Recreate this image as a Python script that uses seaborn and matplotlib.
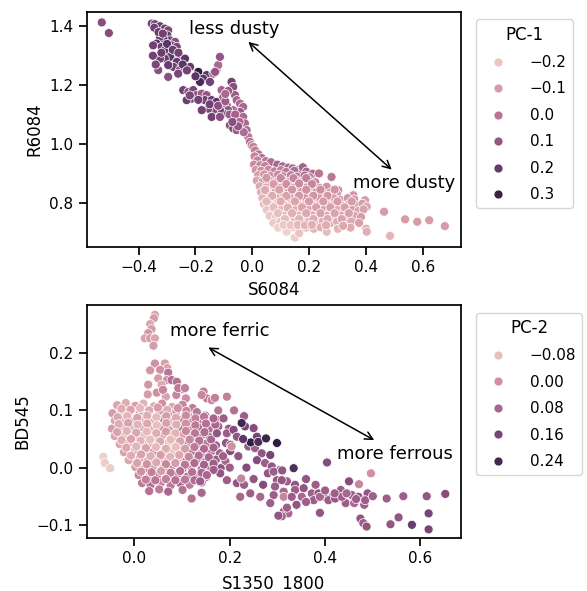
import matplotlib
matplotlib.use("Agg")
import matplotlib.pyplot as plt
import pandas as pd
import seaborn as sns

# ---------------- data: top panel (S6084, R6084, PC-1) ----------------
dusty_far_left = [(-0.530, 1.413, 0.13), (-0.505, 1.377, 0.13)]

dusty_upper = [
    (-0.354, 1.409, 0.17), (-0.343, 1.407, 0.15), (-0.325, 1.400, 0.19), (-0.308, 1.392, 0.17),
    (-0.296, 1.386, 0.15), (-0.299, 1.369, 0.19), (-0.290, 1.352, 0.17), (-0.272, 1.347, 0.12),
    (-0.313, 1.358, 0.22), (-0.325, 1.364, 0.19), (-0.337, 1.341, 0.22), (-0.349, 1.335, 0.17),
    (-0.319, 1.330, 0.19), (-0.308, 1.318, 0.22), (-0.284, 1.335, 0.17), (-0.266, 1.330, 0.15),
    (-0.272, 1.307, 0.32), (-0.290, 1.296, 0.22), (-0.308, 1.290, 0.19), (-0.325, 1.290, 0.17),
    (-0.255, 1.296, 0.26), (-0.237, 1.290, 0.22), (-0.266, 1.279, 0.19), (-0.278, 1.262, 0.17),
    (-0.296, 1.268, 0.19), (-0.255, 1.251, 0.17), (-0.261, 1.239, 0.15), (-0.331, 1.251, 0.12),
    (-0.296, 1.228, 0.12), (-0.219, 1.262, 0.19), (-0.190, 1.245, 0.32), (-0.161, 1.234, 0.22),
    (-0.137, 1.239, 0.06), (-0.126, 1.251, 0.08), (-0.120, 1.268, 0.04), (-0.114, 1.296, 0.10),
    (-0.131, 1.245, 0.10), (-0.173, 1.222, 0.22), (-0.184, 1.211, 0.26), (-0.149, 1.211, 0.17),
    (-0.345, 1.395, 0.17), (-0.330, 1.380, 0.19), (-0.315, 1.375, 0.17), (-0.300, 1.340, 0.22),
    (-0.280, 1.320, 0.19), (-0.260, 1.310, 0.17), (-0.245, 1.270, 0.22), (-0.230, 1.250, 0.17),
    (-0.200, 1.230, 0.22), (-0.320, 1.310, 0.19), (-0.350, 1.300, 0.17), (-0.340, 1.270, 0.15),
]

dusty_middle = [
    (-0.243, 1.183, 0.17), (-0.225, 1.177, 0.12), (-0.208, 1.183, 0.15), (-0.214, 1.154, 0.17),
    (-0.231, 1.149, 0.19), (-0.196, 1.166, 0.12), (-0.178, 1.171, 0.08), (-0.161, 1.166, 0.10),
    (-0.167, 1.149, 0.17), (-0.143, 1.149, 0.19), (-0.126, 1.143, 0.22), (-0.108, 1.183, 0.06),
    (-0.102, 1.160, 0.08), (-0.090, 1.132, 0.12), (-0.073, 1.211, 0.17), (-0.067, 1.194, 0.12),
    (-0.061, 1.166, 0.08), (-0.055, 1.149, 0.06), (-0.043, 1.137, 0.04), (-0.032, 1.126, 0.04),
    (-0.043, 1.109, 0.08), (-0.067, 1.115, 0.04), (-0.085, 1.115, 0.10), (-0.102, 1.103, 0.17),
    (-0.114, 1.115, 0.15), (-0.137, 1.115, 0.12), (-0.155, 1.120, 0.15), (-0.178, 1.115, 0.17),
    (-0.143, 1.092, 0.17), (-0.114, 1.092, 0.12), (-0.073, 1.092, 0.06), (-0.055, 1.081, 0.08),
    (-0.032, 1.092, 0.04), (-0.079, 1.064, 0.12), (-0.067, 1.053, 0.15), (-0.055, 1.047, 0.08),
    (-0.038, 1.058, 0.06), (-0.026, 1.070, 0.04), (-0.020, 1.047, 0.04), (-0.014, 1.024, 0.00),
    (-0.008, 1.007, 0.02), (-0.002, 0.996, 0.00), (0.004, 0.990, -0.02),
    (-0.220, 1.165, 0.15), (-0.190, 1.150, 0.17), (-0.150, 1.135, 0.17), (-0.120, 1.130, 0.12),
    (-0.095, 1.145, 0.08), (-0.080, 1.100, 0.08), (-0.060, 1.100, 0.06), (-0.045, 1.075, 0.04),
    (-0.030, 1.040, 0.03), (-0.050, 1.060, 0.10), (-0.070, 1.075, 0.12), (-0.085, 1.180, 0.08),
    (-0.095, 1.170, 0.04),
]

dusty_lower = [
    (0.010, 0.978, -0.02), (0.022, 0.965, 0.00), (0.008, 0.958, -0.04), (0.034, 0.952, 0.02),
    (0.018, 0.944, -0.03), (0.048, 0.942, 0.00), (0.066, 0.938, 0.03), (0.006, 0.930, -0.06),
    (0.028, 0.928, -0.04), (0.045, 0.925, -0.02), (0.088, 0.930, 0.04), (0.107, 0.924, 0.05),
    (0.127, 0.920, 0.04), (0.142, 0.917, 0.06), (0.161, 0.911, 0.08), (0.178, 0.921, 0.06),
    (0.190, 0.906, 0.05), (0.213, 0.899, 0.03), (0.235, 0.900, 0.00), (0.279, 0.888, 0.00),
    (0.012, 0.912, -0.08), (0.031, 0.909, -0.06), (0.057, 0.913, -0.05), (0.078, 0.907, -0.03),
    (0.101, 0.911, -0.02), (0.119, 0.905, 0.00), (0.148, 0.909, 0.02),
    (0.021, 0.894, -0.10), (0.042, 0.897, -0.08), (0.064, 0.891, -0.06), (0.091, 0.896, -0.05),
    (0.109, 0.890, -0.03), (0.136, 0.894, -0.02), (0.158, 0.889, 0.00), (0.184, 0.893, 0.02),
    (0.202, 0.887, -0.02),
    (0.016, 0.876, -0.12), (0.037, 0.872, -0.10), (0.059, 0.877, -0.08), (0.086, 0.871, -0.07),
    (0.108, 0.876, -0.06), (0.131, 0.872, -0.05), (0.153, 0.877, -0.04), (0.177, 0.871, -0.03),
    (0.198, 0.876, -0.02), (0.222, 0.870, -0.05),
    (0.026, 0.856, -0.13), (0.049, 0.852, -0.12), (0.076, 0.857, -0.10), (0.098, 0.851, -0.08),
    (0.121, 0.856, -0.07), (0.146, 0.851, -0.06), (0.168, 0.857, -0.06), (0.192, 0.852, -0.05),
    (0.214, 0.856, -0.05), (0.238, 0.851, -0.06), (0.262, 0.855, -0.07), (0.303, 0.843, -0.07),
    (0.031, 0.836, -0.14), (0.054, 0.832, -0.13), (0.081, 0.837, -0.12), (0.104, 0.831, -0.10),
    (0.128, 0.836, -0.08), (0.151, 0.832, -0.08), (0.174, 0.837, -0.07), (0.199, 0.831, -0.07),
    (0.226, 0.836, -0.06), (0.249, 0.832, -0.08), (0.276, 0.836, -0.08), (0.298, 0.830, -0.09),
    (0.356, 0.826, -0.08),
    (0.036, 0.816, -0.16), (0.061, 0.812, -0.15), (0.084, 0.817, -0.13), (0.111, 0.811, -0.12),
    (0.134, 0.816, -0.10), (0.159, 0.812, -0.10), (0.186, 0.817, -0.09), (0.209, 0.811, -0.08),
    (0.236, 0.816, -0.08), (0.259, 0.812, -0.09), (0.286, 0.817, -0.10), (0.309, 0.811, -0.10),
    (0.336, 0.816, -0.09), (0.359, 0.812, -0.08), (0.397, 0.809, -0.10),
    (0.041, 0.796, -0.18), (0.064, 0.792, -0.17), (0.091, 0.797, -0.15), (0.114, 0.791, -0.14),
    (0.141, 0.796, -0.13), (0.164, 0.792, -0.12), (0.191, 0.797, -0.11), (0.214, 0.791, -0.10),
    (0.241, 0.796, -0.10), (0.264, 0.792, -0.11), (0.291, 0.797, -0.12), (0.314, 0.791, -0.10),
    (0.341, 0.796, -0.11), (0.364, 0.792, -0.12), (0.388, 0.797, -0.10), (0.403, 0.787, -0.12),
    (0.051, 0.776, -0.20), (0.074, 0.772, -0.19), (0.101, 0.777, -0.17), (0.124, 0.771, -0.15),
    (0.151, 0.776, -0.14), (0.174, 0.772, -0.13), (0.201, 0.777, -0.12), (0.224, 0.771, -0.12),
    (0.251, 0.776, -0.11), (0.274, 0.772, -0.12), (0.301, 0.777, -0.13), (0.324, 0.771, -0.12),
    (0.351, 0.776, -0.10), (0.374, 0.772, -0.11), (0.392, 0.778, -0.12),
    (0.061, 0.756, -0.21), (0.084, 0.752, -0.20), (0.111, 0.757, -0.18), (0.134, 0.751, -0.16),
    (0.161, 0.756, -0.15), (0.184, 0.752, -0.14), (0.211, 0.757, -0.13), (0.234, 0.751, -0.13),
    (0.261, 0.756, -0.12), (0.284, 0.752, -0.13), (0.311, 0.757, -0.12), (0.334, 0.751, -0.11),
    (0.361, 0.756, -0.12), (0.383, 0.752, -0.10),
    (0.074, 0.732, -0.22), (0.099, 0.736, -0.20), (0.126, 0.731, -0.19), (0.149, 0.737, -0.17),
    (0.176, 0.732, -0.16), (0.199, 0.736, -0.15), (0.226, 0.731, -0.14), (0.249, 0.737, -0.14),
    (0.276, 0.732, -0.13), (0.299, 0.736, -0.14), (0.326, 0.731, -0.12), (0.349, 0.737, -0.13),
    (0.376, 0.732, -0.11),
    (0.091, 0.716, -0.23), (0.119, 0.712, -0.22), (0.141, 0.717, -0.20), (0.166, 0.711, -0.18),
    (0.189, 0.716, -0.17), (0.216, 0.712, -0.16), (0.241, 0.717, -0.15), (0.301, 0.712, -0.16),
    (0.346, 0.716, -0.14), (0.401, 0.712, -0.14),
    (0.121, 0.702, -0.23), (0.150, 0.682, -0.22), (0.165, 0.697, -0.20), (0.262, 0.702, -0.18),
    (0.403, 0.702, -0.15), (0.485, 0.688, -0.16),
]

dusty_lower_fill = [
    (0.050, 0.885, -0.09), (0.075, 0.864, -0.10), (0.100, 0.884, -0.05), (0.120, 0.864, -0.07),
    (0.145, 0.884, -0.04), (0.165, 0.866, -0.05), (0.190, 0.884, -0.02), (0.210, 0.864, -0.04),
    (0.045, 0.844, -0.13), (0.070, 0.824, -0.14), (0.095, 0.845, -0.11), (0.120, 0.824, -0.11),
    (0.140, 0.845, -0.08), (0.165, 0.824, -0.09), (0.190, 0.845, -0.07), (0.215, 0.824, -0.08),
    (0.240, 0.845, -0.07), (0.265, 0.824, -0.09), (0.290, 0.845, -0.08),
    (0.050, 0.805, -0.17), (0.075, 0.785, -0.18), (0.100, 0.805, -0.14), (0.125, 0.784, -0.15),
    (0.150, 0.805, -0.12), (0.175, 0.785, -0.12), (0.200, 0.805, -0.10), (0.225, 0.785, -0.11),
    (0.250, 0.805, -0.10), (0.275, 0.785, -0.11), (0.300, 0.805, -0.10), (0.325, 0.785, -0.11),
    (0.350, 0.805, -0.10),
    (0.090, 0.765, -0.19), (0.115, 0.745, -0.18), (0.140, 0.765, -0.15), (0.165, 0.745, -0.16),
    (0.190, 0.765, -0.13), (0.215, 0.745, -0.14), (0.240, 0.765, -0.12), (0.265, 0.745, -0.13),
    (0.290, 0.765, -0.12), (0.315, 0.745, -0.12), (0.340, 0.765, -0.11),
    (0.110, 0.725, -0.21), (0.135, 0.724, -0.20), (0.160, 0.725, -0.17), (0.185, 0.724, -0.16),
    (0.210, 0.725, -0.15), (0.260, 0.724, -0.14), (0.320, 0.722, -0.13),
]

dusty_right = [(0.464, 0.770, -0.10), (0.538, 0.744, -0.10), (0.581, 0.736, -0.10),
               (0.623, 0.741, -0.10), (0.678, 0.721, -0.10)]

# ---------------- data: bottom panel (S1350_1800, BD545, PC-2) ----------------
ferric_spike = [
    (0.043, 0.267, -0.03), (0.041, 0.261, -0.02), (0.033, 0.251, -0.04), (0.036, 0.242, -0.02),
    (0.029, 0.235, -0.01), (0.022, 0.226, -0.03), (0.033, 0.226, -0.02), (0.043, 0.226, -0.04),
    (0.040, 0.213, -0.02),
]

ferric_upper = [
    (0.043, 0.182, 0.00), (0.064, 0.182, -0.02), (0.069, 0.174, -0.03), (0.033, 0.170, -0.01),
    (0.054, 0.171, 0.00), (0.071, 0.166, 0.05), (0.050, 0.156, -0.02), (0.068, 0.153, 0.00),
    (0.057, 0.145, -0.04), (0.078, 0.153, 0.06), (0.089, 0.150, 0.06), (0.103, 0.137, 0.04),
    (0.145, 0.133, 0.03), (0.152, 0.121, 0.04), (0.162, 0.118, 0.02), (0.169, 0.122, 0.03),
    (0.194, 0.124, 0.03), (0.141, 0.127, 0.02),
    (0.028, 0.128, -0.02), (0.047, 0.131, 0.00), (0.066, 0.124, -0.03), (0.088, 0.127, 0.02),
    (0.108, 0.121, 0.01), (0.029, 0.145, -0.01), (0.060, 0.136, 0.02), (0.092, 0.139, 0.04),
    (0.106, 0.139, 0.03),
]

ferric_block = [
    (-0.036, 0.109, -0.03), (-0.018, 0.113, -0.05), (0.002, 0.108, -0.02), (0.019, 0.112, -0.06),
    (0.041, 0.107, -0.04), (0.058, 0.112, 0.00), (0.079, 0.106, -0.03), (0.101, 0.110, 0.02),
    (0.122, 0.104, 0.04),
    (-0.046, 0.095, -0.02), (-0.028, 0.099, -0.04), (-0.012, 0.094, -0.06), (0.011, 0.098, -0.03),
    (0.029, 0.093, -0.05), (0.052, 0.099, -0.02), (0.071, 0.094, 0.02), (0.088, 0.098, -0.01),
    (0.112, 0.092, 0.03), (0.131, 0.097, 0.05), (0.149, 0.091, 0.04),
    (-0.041, 0.082, -0.03), (-0.022, 0.085, -0.05), (-0.003, 0.080, -0.02), (0.018, 0.084, -0.07),
    (0.039, 0.079, -0.03), (0.061, 0.085, 0.02), (0.078, 0.080, -0.04), (0.099, 0.084, 0.03),
    (0.121, 0.079, 0.05), (0.139, 0.083, 0.06), (0.162, 0.078, 0.08), (0.181, 0.084, 0.06),
    (-0.047, 0.068, -0.02), (-0.026, 0.072, -0.04), (-0.006, 0.067, -0.06), (0.016, 0.071, -0.03),
    (0.034, 0.066, -0.05), (0.056, 0.070, 0.04), (0.074, 0.065, -0.02), (0.096, 0.071, 0.06),
    (0.117, 0.066, 0.02), (0.134, 0.071, 0.08), (0.156, 0.067, 0.06), (0.176, 0.072, 0.10),
    (0.198, 0.068, 0.12),
    (-0.041, 0.055, -0.03), (-0.021, 0.058, -0.05), (0.001, 0.054, -0.02), (0.021, 0.057, -0.06),
    (0.042, 0.052, -0.07), (0.059, 0.057, -0.03), (0.081, 0.053, 0.05), (0.102, 0.058, -0.02),
    (0.119, 0.052, 0.04), (0.141, 0.057, 0.08), (0.158, 0.053, 0.10),
    (-0.031, 0.041, -0.04), (-0.011, 0.044, -0.02), (0.009, 0.040, -0.05), (0.031, 0.043, 0.00),
    (0.049, 0.039, -0.06), (0.071, 0.044, -0.08), (0.089, 0.040, -0.04), (0.111, 0.043, 0.03),
    (0.129, 0.038, 0.06), (0.151, 0.042, 0.04), (0.171, 0.039, 0.10), (0.192, 0.043, 0.12),
    (-0.022, 0.027, -0.03), (0.001, 0.030, -0.05), (0.019, 0.026, -0.02), (0.041, 0.029, 0.02),
    (0.059, 0.025, -0.04), (0.081, 0.030, -0.07), (0.098, 0.026, -0.05), (0.121, 0.029, 0.05),
    (0.139, 0.024, 0.08), (0.161, 0.028, 0.06), (0.179, 0.025, 0.10), (0.201, 0.029, 0.14),
    (-0.012, 0.013, -0.04), (0.011, 0.016, -0.02), (0.029, 0.012, 0.02), (0.051, 0.015, -0.03),
    (0.069, 0.011, 0.00), (0.092, 0.016, -0.06), (0.109, 0.012, 0.04), (0.131, 0.015, 0.08),
    (0.149, 0.010, 0.06), (0.171, 0.014, 0.10), (0.191, 0.011, 0.08),
    (0.002, 0.001, -0.02), (0.021, -0.002, 0.03), (0.039, 0.002, 0.00), (0.061, -0.001, 0.05),
    (0.079, 0.003, 0.02), (0.101, -0.002, 0.08), (0.119, 0.001, 0.04), (0.141, -0.003, 0.10),
    (0.159, 0.002, 0.08), (0.181, -0.001, 0.12),
    (0.009, -0.013, 0.02), (0.031, -0.016, -0.01), (0.049, -0.012, 0.04), (0.071, -0.015, 0.02),
    (0.091, -0.011, 0.06), (0.111, -0.016, 0.08), (0.129, -0.013, 0.05), (0.151, -0.016, 0.10),
    (0.016, -0.027, 0.04), (0.034, -0.030, 0.06), (0.056, -0.026, 0.02), (0.076, -0.031, 0.05),
    (0.096, -0.027, 0.08), (0.116, -0.030, 0.04), (0.141, -0.026, 0.06),
    (0.031, -0.041, 0.06), (0.052, -0.038, 0.04), (0.071, -0.042, 0.08), (0.101, -0.039, 0.06),
    (0.120, -0.054, 0.04), (0.141, -0.045, 0.06),
    (-0.065, 0.019, -0.11), (-0.062, 0.008, -0.10), (-0.051, -0.001, -0.10),
]

ferric_block_fill = [
    (-0.027, 0.103, -0.05), (-0.008, 0.101, -0.03), (0.012, 0.104, -0.07), (0.031, 0.100, -0.04),
    (0.049, 0.105, -0.02), (0.069, 0.101, -0.05), (0.091, 0.104, 0.00), (0.109, 0.099, 0.02),
    (-0.035, 0.088, -0.04), (-0.015, 0.090, -0.06), (0.006, 0.087, -0.03), (0.027, 0.091, -0.05),
    (0.046, 0.088, -0.07), (0.067, 0.090, -0.02), (0.087, 0.087, -0.04), (0.108, 0.091, 0.01),
    (0.128, 0.086, 0.03), (0.146, 0.089, 0.05),
    (-0.033, 0.076, -0.05), (-0.013, 0.078, -0.03), (0.007, 0.075, -0.06), (0.027, 0.077, -0.04),
    (0.047, 0.074, -0.08), (0.067, 0.078, -0.03), (0.088, 0.075, -0.05), (0.108, 0.077, 0.00),
    (0.128, 0.074, 0.04), (0.150, 0.077, 0.06), (0.170, 0.075, 0.08),
    (-0.036, 0.062, -0.03), (-0.016, 0.064, -0.06), (0.004, 0.061, -0.04), (0.026, 0.063, -0.07),
    (0.046, 0.060, -0.05), (0.066, 0.063, -0.02), (0.086, 0.060, -0.06), (0.108, 0.064, 0.02),
    (0.127, 0.060, 0.05), (0.147, 0.062, 0.07),
    (-0.027, 0.048, -0.05), (-0.007, 0.050, -0.03), (0.013, 0.047, -0.06), (0.033, 0.049, -0.08),
    (0.054, 0.046, -0.04), (0.076, 0.049, -0.07), (0.096, 0.046, -0.03), (0.116, 0.049, 0.02),
    (0.136, 0.047, 0.06), (0.161, 0.049, 0.08),
    (-0.017, 0.035, -0.04), (0.004, 0.037, -0.06), (0.024, 0.034, -0.03), (0.045, 0.036, -0.07),
    (0.066, 0.033, -0.05), (0.087, 0.036, -0.08), (0.106, 0.033, -0.02), (0.126, 0.036, 0.04),
    (0.146, 0.033, 0.07), (0.166, 0.035, 0.09),
    (-0.007, 0.021, -0.05), (0.014, 0.023, -0.03), (0.034, 0.020, -0.05), (0.055, 0.022, -0.02),
    (0.075, 0.019, -0.06), (0.094, 0.022, -0.04), (0.114, 0.019, 0.02), (0.135, 0.021, 0.06),
    (0.156, 0.018, 0.08), (0.186, 0.020, 0.10),
    (0.006, 0.008, -0.03), (0.026, 0.006, 0.00), (0.046, 0.009, -0.04), (0.066, 0.006, 0.02),
    (0.086, 0.008, -0.02), (0.106, 0.005, 0.05), (0.126, 0.008, 0.07), (0.146, 0.005, 0.09),
    (0.166, 0.007, 0.10),
    (0.014, -0.007, 0.00), (0.036, -0.008, 0.03), (0.056, -0.006, -0.02), (0.076, -0.009, 0.04),
    (0.096, -0.006, 0.06), (0.121, -0.008, 0.06), (0.141, -0.009, 0.08),
    (0.024, -0.021, 0.03), (0.044, -0.022, 0.05), (0.066, -0.020, 0.03), (0.086, -0.022, 0.06),
    (0.106, -0.021, 0.05), (0.126, -0.022, 0.07),
]

ferric_purple = [
    (0.166, 0.086, 0.08), (0.187, 0.086, 0.10), (0.173, 0.060, 0.12), (0.194, 0.060, 0.10),
    (0.208, 0.066, 0.14), (0.215, 0.054, 0.12), (0.232, 0.072, 0.16), (0.250, 0.069, 0.14),
    (0.257, 0.054, 0.16), (0.239, 0.037, 0.12), (0.253, 0.034, 0.10), (0.267, 0.025, 0.12),
    (0.285, 0.022, 0.16), (0.257, 0.013, 0.14), (0.274, 0.008, 0.10), (0.288, 0.002, 0.12),
    (0.306, -0.004, 0.14), (0.299, -0.022, 0.12), (0.320, -0.024, 0.10),
    (0.337, -0.030, 0.12), (0.313, -0.042, 0.08), (0.292, -0.048, 0.10), (0.264, -0.051, 0.08),
    (0.243, -0.045, 0.10), (0.222, -0.051, 0.08), (0.215, -0.027, 0.12), (0.194, -0.022, 0.10),
    (0.180, -0.010, 0.12), (0.166, -0.004, 0.10), (0.152, -0.013, 0.08), (0.138, -0.024, 0.10),
    (0.120, -0.054, 0.06), (0.141, -0.044, 0.08),
    (0.202, 0.040, 0.14), (0.218, 0.020, 0.12), (0.235, 0.000, 0.14), (0.200, 0.000, 0.10),
    (0.250, -0.020, 0.12), (0.270, -0.030, 0.14), (0.230, -0.030, 0.10), (0.280, -0.010, 0.12),
    (0.209, 0.100, 0.06), (0.230, 0.090, 0.10), (0.176, 0.100, 0.05),
    (0.204, 0.037, 0.00), (0.224, -0.019, 0.02),
    (0.225, 0.078, 0.24), (0.244, 0.044, 0.26), (0.260, 0.045, 0.22), (0.276, 0.051, 0.25),
    (0.299, 0.043, 0.27), (0.228, 0.050, 0.20), (0.334, -0.001, 0.22),
]

ferrous_tail = [
    (0.292, -0.007, 0.10), (0.309, -0.022, 0.12), (0.295, -0.033, 0.10), (0.337, -0.039, 0.10),
    (0.355, -0.036, 0.12), (0.313, -0.051, 0.02), (0.330, -0.051, 0.10), (0.351, -0.051, 0.08),
    (0.372, -0.045, 0.10), (0.386, -0.045, 0.12), (0.398, -0.051, 0.10), (0.415, -0.051, 0.08),
    (0.433, -0.039, 0.10), (0.450, -0.024, 0.14), (0.471, -0.029, 0.02), (0.443, -0.062, 0.10),
    (0.461, -0.062, 0.08), (0.482, -0.065, 0.10), (0.489, -0.045, 0.12), (0.496, -0.010, 0.00),
    (0.404, 0.009, 0.14), (0.529, -0.054, 0.10), (0.564, -0.050, 0.10), (0.613, -0.050, 0.12),
    (0.652, -0.046, 0.14), (0.617, -0.080, 0.16), (0.617, -0.108, 0.16), (0.582, -0.100, 0.18),
    (0.554, -0.087, 0.12), (0.537, -0.099, 0.12), (0.474, -0.089, 0.12), (0.480, -0.097, 0.10),
    (0.487, -0.103, 0.12), (0.389, -0.079, 0.12), (0.313, -0.077, 0.10), (0.323, -0.080, 0.08),
    (0.309, -0.085, 0.10), (0.302, -0.084, 0.12), (0.285, -0.062, 0.10), (0.376, -0.057, 0.10),
    (0.389, -0.051, 0.08), (0.407, -0.057, 0.10), (0.421, -0.054, 0.12), (0.435, -0.051, 0.10),
    (0.456, -0.048, 0.10), (0.470, -0.051, 0.12), (0.484, -0.057, 0.10),
    (0.360, -0.060, 0.10), (0.340, -0.065, 0.12), (0.320, -0.070, 0.10), (0.400, -0.040, 0.10),
    (0.420, -0.045, 0.10), (0.445, -0.045, 0.08), (0.465, -0.055, 0.10), (0.500, -0.050, 0.10),
    (0.380, -0.030, 0.10), (0.360, -0.020, 0.12), (0.310, -0.005, 0.12),
]

top_xticks = [-0.4, -0.2, 0.0, 0.2, 0.4, 0.6]
top_yticks = [0.8, 1.0, 1.2, 1.4]
bot_xticks = [0.0, 0.2, 0.4, 0.6]
bot_yticks = [-0.1, 0.0, 0.1, 0.2]

# ---------------- plotting ----------------
sns.set_theme(context="notebook", style="ticks",
              rc={"text.color": "black", "axes.labelcolor": "black",
                  "xtick.color": "black", "ytick.color": "black",
                  "axes.edgecolor": "black"})
plt.rcParams["font.family"] = ["DejaVu Sans"]

top = pd.DataFrame(dusty_far_left + dusty_upper + dusty_middle + dusty_lower
                   + dusty_lower_fill + dusty_right,
                   columns=["S6084", "R6084", "PC-1"])
bot = pd.DataFrame(ferric_spike + ferric_upper + ferric_block + ferric_block_fill
                   + ferric_purple + ferrous_tail,
                   columns=["S1350_1800", "BD545", "PC-2"])

fig = plt.figure(figsize=(5.87, 5.91), dpi=100)
ax1 = fig.add_axes([0.1477, 0.582, 0.6377, 0.398])
ax2 = fig.add_axes([0.1477, 0.0897, 0.6377, 0.394])

sns.scatterplot(data=top, x="S6084", y="R6084", hue="PC-1", s=42, ax=ax1)
sns.scatterplot(data=bot, x="S1350_1800", y="BD545", hue="PC-2", s=42, ax=ax2)

ax1.set_xlim(-0.583, 0.735)
ax1.set_ylim(0.65, 1.449)
ax1.set_xticks(top_xticks)
ax1.set_yticks(top_yticks)
ax2.set_xlim(-0.100, 0.685)
ax2.set_ylim(-0.123, 0.284)
ax2.set_xticks(bot_xticks)
ax2.set_yticks(bot_yticks)
ax2.set_xlabel("S1350_1800", labelpad=6)

arrow = dict(arrowstyle="<->", color="black", lw=1.1, shrinkA=0, shrinkB=0, mutation_scale=14)
ax1.annotate("", xy=(-0.014, 1.347), xytext=(0.491, 0.913), arrowprops=arrow)
ax1.text(-0.065, 1.392, "less dusty", fontsize=13, ha="center", va="center")
ax1.text(0.534, 0.866, "more dusty", fontsize=13, ha="center", va="center")

ax2.annotate("", xy=(0.155, 0.210), xytext=(0.503, 0.048), arrowprops=arrow)
ax2.text(0.180, 0.239, "more ferric", fontsize=13, ha="center", va="center")
ax2.text(0.547, 0.024, "more ferrous", fontsize=13, ha="center", va="center")

for ax in (ax1, ax2):
    sns.move_legend(ax, "upper left", bbox_to_anchor=(1.02, 1),
                    labelspacing=0.75, handletextpad=1.1)

fig.savefig("out.png", dpi=100)
